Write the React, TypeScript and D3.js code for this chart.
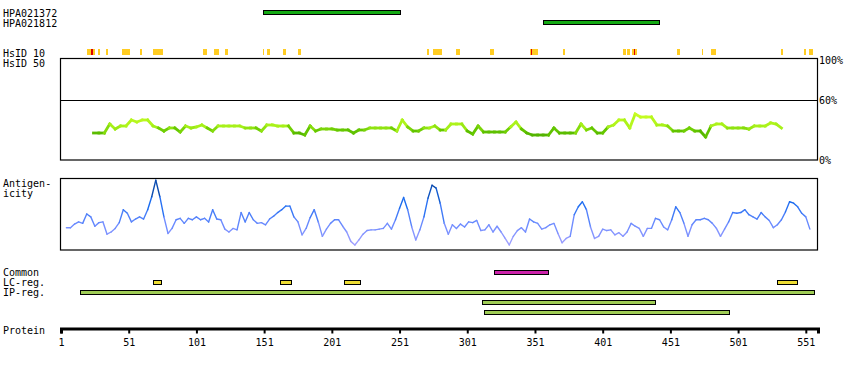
import React, { useEffect, useRef } from 'react';
import * as d3 from 'd3';

// sequence + antibody data
const proteinLength = 559;
const antibodyNames = ['HPA021372', 'HPA021812'];
const antibodyRanges = [[150, 251], [357, 443]];

// HsID 10 hits (residue ranges)
const hsidYellow = [
  [20, 23], [24.5, 26], [28, 30], [34, 36], [46, 52], [59, 61], [69, 76], [106, 109], [114, 118],
  [122, 124], [150, 151], [153, 155], [165, 167], [176, 178], [271, 273], [276, 282], [293, 296],
  [318, 321], [347, 348], [349, 353], [372, 373], [416, 418], [419, 421], [423, 424], [425, 426],
  [456, 458], [474, 475], [481, 485], [533, 534], [550, 551], [553, 556],
];
const hsidRed = [[23, 24.5], [348, 349], [424, 425]];

// HsID 50 identity (%), one value every 4 residues from residue 25
const identityStart = 25;
const identityStep = 4;
const identityValues = [
  27, 27, 27, 36, 31, 34, 34, 40, 38, 40, 40, 34, 32, 29, 32, 32, 28, 34, 32, 33,
  35, 32, 29, 34, 34, 34, 34, 34, 32, 32, 32, 29, 35, 35, 34, 34, 34, 27, 27, 25,
  34, 29, 31, 31, 31, 30, 30, 30, 27, 30, 30, 32, 32, 32, 32, 32, 29, 40, 33, 29,
  29, 32, 32, 34, 30, 30, 36, 36, 36, 29, 26, 34, 28, 28, 28, 28, 28, 33, 38, 31,
  27, 25, 25, 25, 25, 32, 27, 27, 27, 27, 36, 30, 32, 27, 27, 33, 35, 40, 40, 32,
  46, 43, 43, 43, 35, 35, 34, 29, 29, 29, 32, 29, 29, 23, 34, 36, 36, 32, 32, 32,
  32, 31, 34, 34, 34, 37, 36, 32,
];
const identityTicks = [100, 60, 0];

// antigenicity score, one value every 3 residues from residue 5
const antigenStart = 5;
const antigenStep = 3;
const antigenValues = [
  31, 31, 36, 39, 37, 50, 46, 33, 38, 39, 22, 25, 30, 38, 56, 51, 39, 43, 46, 43,
  56, 74, 97, 74, 46, 23, 30, 42, 44, 37, 44, 42, 46, 42, 44, 39, 56, 43, 42, 29,
  25, 30, 28, 52, 39, 52, 42, 37, 38, 35, 43, 47, 52, 56, 61, 61, 46, 39, 21, 30,
  45, 56, 39, 19, 29, 37, 42, 42, 33, 25, 12, 7, 14, 22, 27, 28, 28, 29, 30, 37,
  29, 42, 58, 73, 56, 32, 14, 28, 46, 72, 90, 86, 65, 37, 22, 35, 30, 36, 32, 39,
  38, 41, 27, 28, 35, 25, 33, 25, 16, 7, 19, 27, 31, 25, 43, 39, 37, 29, 31, 35,
  37, 23, 10, 16, 19, 49, 60, 67, 56, 32, 16, 19, 29, 27, 28, 21, 24, 19, 25, 37,
  33, 30, 19, 30, 30, 44, 42, 32, 28, 42, 60, 52, 37, 19, 35, 42, 42, 44, 42, 37,
  30, 19, 29, 39, 52, 51, 52, 56, 49, 46, 43, 52, 46, 41, 31, 35, 42, 53, 67, 65,
  60, 51, 46, 29,
];

const commonRegions = [[321, 361]];
const lcRegions = [[69, 75], [163, 171], [210, 222], [530, 545]];
const ipRegions = [[15, 557], [312, 440], [313, 494]];
const axisTicks = [1, 51, 101, 151, 201, 251, 301, 351, 401, 451, 501, 551];

const FONT = '"DejaVu Sans Mono", monospace';

const ProteinChart = () => {
  const svgRef = useRef(null);

  useEffect(() => {
    const svg = d3.select(svgRef.current);
    svg.selectAll('*').remove();

    const x = d3.scaleLinear().domain([1, proteinLength + 1]).range([61, 818]);
    const yId = d3.scaleLinear().domain([0, 100]).range([160, 60]);
    const yAg = d3.scaleLinear().domain([0, 100]).range([250, 178]);

    const label = (txt, tx, ty) =>
      svg.append('text').attr('x', tx).attr('y', ty)
        .style('font-family', FONT).style('font-size', '10px').style('fill', '#000').text(txt);

    // left labels
    antibodyNames.forEach((n, i) => label(n, 3, 16.5 + i * 10));
    label('HsID 10', 3, 56.5);
    label('HsID 50', 3, 66.5);
    label('Antigen-', 3, 186.5);
    label('icity', 3, 196.5);
    label('Common', 3, 276);
    label('LC-reg.', 3, 286);
    label('IP-reg.', 3, 296);
    label('Protein', 3, 333.5);

    const bar = (rng, y, fill) =>
      svg.append('rect')
        .attr('x', Math.round(x(rng[0])) + 0.5)
        .attr('y', y)
        .attr('width', Math.round(x(rng[1]) - x(rng[0])))
        .attr('height', 4)
        .attr('fill', fill)
        .attr('stroke', '#000')
        .attr('stroke-width', 1)
        .attr('shape-rendering', 'crispEdges');

    // antibodies
    antibodyRanges.forEach((r, i) => bar(r, 10.5 + i * 10, '#14aa14'));

    // HsID 10
    const hs = svg.append('g').attr('shape-rendering', 'crispEdges');
    hs.selectAll('.y').data(hsidYellow).enter().append('rect')
      .attr('x', d => x(d[0])).attr('width', d => Math.max(1.5, x(d[1]) - x(d[0])))
      .attr('y', 49).attr('height', 6).attr('fill', '#ffcc22');
    hs.selectAll('.r').data(hsidRed).enter().append('rect')
      .attr('x', d => x(d[0])).attr('width', d => Math.max(1.5, x(d[1]) - x(d[0])))
      .attr('y', 49).attr('height', 6).attr('fill', '#dd0000');

    // identity box
    svg.append('rect').attr('x', 60.5).attr('y', 58.5).attr('width', 757).attr('height', 101.5)
      .attr('fill', 'none').attr('stroke', '#000').attr('stroke-width', 1.2);
    svg.append('line').attr('x1', 60.5).attr('x2', 817.5)
      .attr('y1', Math.round(yId(60)) + 0.5).attr('y2', Math.round(yId(60)) + 0.5)
      .attr('stroke', '#000').attr('stroke-width', 1.2);
    identityTicks.forEach(t => label(`${t}%`, 819, yId(t) + 3.5));

    const idColor = d3.scaleLinear()
      .domain([24, 30, 33, 46])
      .range(['#4fb000', '#66c800', '#a4f018', '#ccff22'])
      .clamp(true);
    const idPts = identityValues.map((v, i) => [x(identityStart + i * identityStep), yId(v)]);
    const idG = svg.append('g');
    for (let i = 0; i < idPts.length - 1; i++) {
      const v = (identityValues[i] + identityValues[i + 1]) / 2;
      idG.append('line')
        .attr('x1', idPts[i][0]).attr('y1', idPts[i][1])
        .attr('x2', idPts[i + 1][0]).attr('y2', idPts[i + 1][1])
        .attr('stroke', idColor(v))
        .attr('stroke-width', 2.8).attr('stroke-linecap', 'square');
    }

    // antigenicity box
    svg.append('rect').attr('x', 60.5).attr('y', 178.5).attr('width', 757).attr('height', 71.5)
      .attr('fill', 'none').attr('stroke', '#000').attr('stroke-width', 1.2);
    const agColor = d3.scaleLinear()
      .domain([0, 35, 65, 100])
      .range(['#b4a8ff', '#6e8cff', '#1a6cf0', '#003584']);
    const agPts = antigenValues.map((v, i) => [x(antigenStart + i * antigenStep), yAg(v)]);
    const agG = svg.append('g');
    for (let i = 0; i < agPts.length - 1; i++) {
      agG.append('line')
        .attr('x1', agPts[i][0]).attr('y1', agPts[i][1])
        .attr('x2', agPts[i + 1][0]).attr('y2', agPts[i + 1][1])
        .attr('stroke', agColor((antigenValues[i] + antigenValues[i + 1]) / 2))
        .attr('stroke-width', 1.4).attr('stroke-linecap', 'round');
    }

    // region rows
    commonRegions.forEach(r => bar(r, 270.5, '#cc22aa'));
    lcRegions.forEach(r => bar(r, 280.5, '#eedd33'));
    ipRegions.forEach((r, i) => bar(r, 290.5 + i * 10, '#9fcc55'));

    // protein axis
    const axis = d3.axisBottom(x).tickValues(axisTicks).tickFormat(d3.format('d'))
      .tickSize(4).tickSizeOuter(5).tickPadding(5);
    const ax = svg.append('g').attr('transform', 'translate(0,329.5)').call(axis);
    ax.select('.domain').attr('stroke-width', 3).attr('transform', 'translate(0,-1)');
    ax.selectAll('.tick line').attr('stroke-width', 2);
    ax.selectAll('.tick text')
      .style('font-family', FONT).style('font-size', '10px').style('fill', '#000');
  }, []);

  return (
    <svg ref={svgRef} width={850} height={370}
      style={{ position: 'absolute', left: 0, top: 0, background: '#fff' }} />
  );
};

export default function App() {
  return <ProteinChart />;
}
